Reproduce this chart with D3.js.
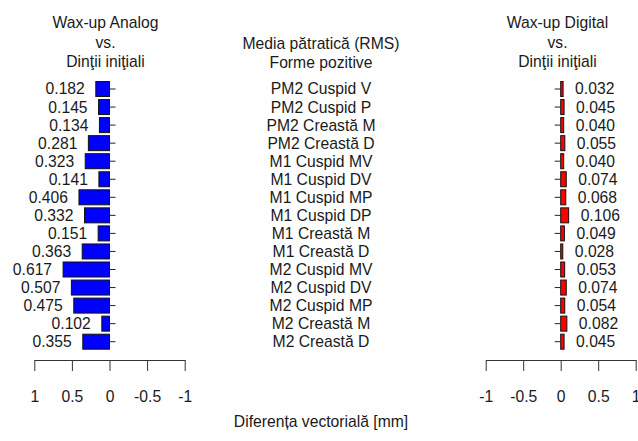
<!DOCTYPE html>
<html><head><meta charset="utf-8">
<script src="https://cdn.jsdelivr.net/npm/d3@7"></script>
<style>body{margin:0;background:#fff}svg text{font-family:"Liberation Sans",Arial,sans-serif;fill:#1a1a1a}</style>
</head><body><svg id="c" width="638" height="441"></svg>
<script>
const categories = ["PM2 Cuspid V","PM2 Cuspid P","PM2 Creastă M","PM2 Creastă D","M1 Cuspid MV","M1 Cuspid DV","M1 Cuspid MP","M1 Cuspid DP","M1 Creastă M","M1 Creastă D","M2 Cuspid MV","M2 Cuspid DV","M2 Cuspid MP","M2 Creastă M","M2 Creastă D"];
const analogValues = [0.182,0.145,0.134,0.281,0.323,0.141,0.406,0.332,0.151,0.363,0.617,0.507,0.475,0.102,0.355];
const digitalValues = [0.032,0.045,0.040,0.055,0.040,0.074,0.068,0.106,0.049,0.028,0.053,0.074,0.054,0.082,0.045];
const tickValues = [1,0.5,0,-0.5,-1];
const tickLabels = ["1","0.5","0","-0.5","-1"];
const leftTitle = ["Wax-up Analog","vs.","Dinţii iniţiali"];
const rightTitle = ["Wax-up Digital","vs.","Dinţii iniţiali"];
const centerTitle = ["Media pătratică (RMS)","Forme pozitive"];
const xLabel = "Diferența vectorială [mm]";

const svg = d3.select("#c");
const FS = 15.7;
const y = d3.scalePoint().domain(categories).range([89, 341.7]);
const barH = 15;
const xL = d3.scaleLinear().domain([1,-1]).range([34.3,184.7]);
const xR = d3.scaleLinear().domain([-1,1]).range([485.7,635.7]);
const axisY = 360;

function panel(vals, x, fill, side) {
  const g = svg.append("g");
  g.selectAll("rect").data(vals).join("rect")
    .attr("x", d => Math.min(x(d), x(0)))
    .attr("width", d => Math.abs(x(d) - x(0)))
    .attr("y", (d,i) => y(categories[i]) - barH/2)
    .attr("height", barH)
    .attr("fill", fill).attr("stroke", "#111").attr("stroke-width", 1);
  // small ticks at bar centers
  g.selectAll("line.t").data(vals).join("line").attr("class","t")
    .attr("x1", x(0)).attr("x2", x(0) + (side === "L" ? 6 : -6))
    .attr("y1", (d,i) => y(categories[i])).attr("y2", (d,i) => y(categories[i]))
    .attr("stroke", "#222");
  g.selectAll("text.v").data(vals).join("text").attr("class","v")
    .attr("x", d => side === "L" ? x(d) - 11 : x(d) + 12)
    .attr("y", (d,i) => y(categories[i]))
    .attr("dy", "0.35em")
    .attr("text-anchor", side === "L" ? "end" : "start")
    .attr("font-size", FS)
    .text(d => d.toFixed(3));
  const ax = d3.axisBottom(x).tickValues(tickValues)
    .tickFormat((d,i) => tickLabels[i]).tickSize(11).tickSizeOuter(0).tickPadding(20);
  const ag = svg.append("g").attr("transform", `translate(0,${axisY})`).call(ax);
  ag.selectAll("path,line").attr("stroke", "#333");
  ag.selectAll("text").attr("font-size", FS).attr("font-family", "Liberation Sans, Arial, sans-serif").attr("fill", "#1a1a1a");
}
panel(analogValues, xL, "#0000ff", "L");
panel(digitalValues, xR, "#ff0000", "R");

const cx = 321;
svg.append("g").selectAll("text").data(categories).join("text")
  .attr("x", cx).attr("y", d => y(d)).attr("dy", "0.35em")
  .attr("text-anchor", "middle").attr("font-size", FS).text(d => d);

function title(lines, x, y0) {
  svg.append("g").selectAll("text").data(lines).join("text")
    .attr("x", x).attr("y", (d,i) => y0 + i*19.5).attr("dy", "0.35em")
    .attr("text-anchor", "middle").attr("font-size", FS).text(d => d);
}
title(leftTitle, 105.5, 23);
title(rightTitle, 557.5, 23);
title(centerTitle, cx, 43.5);
svg.append("text").attr("x", cx).attr("y", 422).attr("dy","0.35em")
  .attr("text-anchor","middle").attr("font-size", FS).text(xLabel);
</script></body></html>
